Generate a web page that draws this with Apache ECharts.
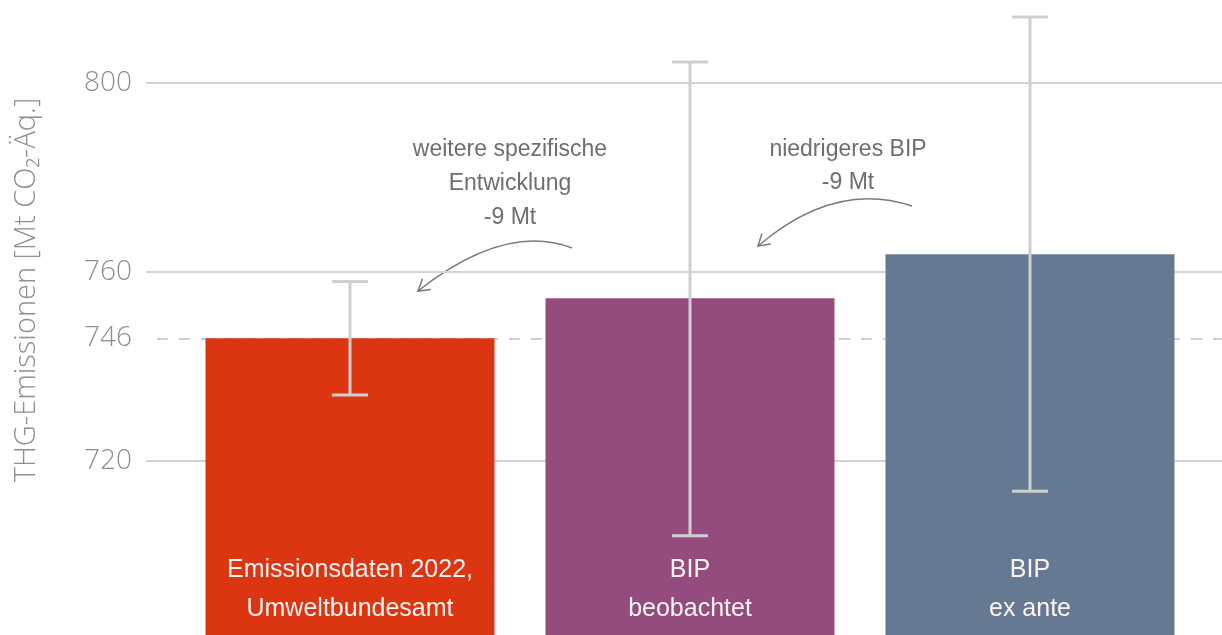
<!DOCTYPE html>
<html><head><meta charset="utf-8">
<script src="https://cdn.jsdelivr.net/npm/echarts@6/dist/echarts.min.js"></script>
<style>html,body{margin:0;padding:0;background:#fff}#c{width:1222px;height:635px}</style>
</head><body><div id="c"></div>
<script>
// ---- data ----
const categories = ['Emissionsdaten 2022,\nUmweltbundesamt', 'BIP\nbeobachtet', 'BIP\nex ante'];
const values = [746, 754.5, 763.8];
const lowerBounds = [734, 704.2, 713.6];
const upperBounds = [758, 804.5, 814];
const barColors = ['#DC3512', '#944C7F', '#667992'];
const yTickLabels = [720, 760, 800];
const referenceValue = 746;
const yAxisTitle = 'THG-Emissionen [Mt CO\u2082-\u00C4q.]';
const annotationTexts = ['weitere spezifische\nEntwicklung\n-9 Mt', 'niedrigeres BIP\n-9 Mt'];

// ---- layout ----
const AX_MIN = 683.2, AX_MAX = 817.6;
const tickFont = {fontFamily: 'Open Sans', fontWeight: 300, fontSize: 28, color: '#8f8f8f'};
const gridColor = '#d4d4d4';

function arrow(p0, c, p2) {
  const dx = p2[0] - c[0], dy = p2[1] - c[1];
  const len = Math.hypot(dx, dy);
  const bx = -dx / len, by = -dy / len;
  const L = 13, a = 32 * Math.PI / 180;
  const w1 = [p2[0] + L * (bx * Math.cos(a) - by * Math.sin(a)), p2[1] + L * (bx * Math.sin(a) + by * Math.cos(a))];
  const w2 = [p2[0] + L * (bx * Math.cos(-a) - by * Math.sin(-a)), p2[1] + L * (bx * Math.sin(-a) + by * Math.cos(-a))];
  const style = {stroke: '#7a7a7a', lineWidth: 1.5, fill: null};
  return [
    {type: 'bezierCurve', shape: {x1: p0[0], y1: p0[1], x2: p2[0], y2: p2[1], cpx1: c[0], cpy1: c[1]}, style: style, silent: true},
    {type: 'polyline', shape: {points: [w1, p2, w2]}, style: style, silent: true}
  ];
}

const gridLines = yTickLabels.map(v => ({
  yAxis: v,
  lineStyle: {type: 'solid', color: gridColor, width: 2},
  label: Object.assign({show: true, position: 'start', distance: 14, formatter: String(v)}, tickFont)
}));
const refLine = {
  yAxis: referenceValue,
  lineStyle: {type: [11, 11], dashOffset: 11, color: '#cfcfcf', width: 2},
  label: Object.assign({show: true, position: 'start', distance: 14, formatter: String(referenceValue)}, tickFont)
};

const chart = echarts.init(document.getElementById('c'), null, {renderer: 'canvas'});
chart.setOption({
  animation: false,
  backgroundColor: '#ffffff',
  grid: [
    {left: 180, right: 22, top: 0, bottom: 0},
    {left: 146, right: 0, top: 0, bottom: 0}
  ],
  xAxis: [
    {type: 'category', gridIndex: 0, data: categories, show: false},
    {type: 'value', gridIndex: 1, min: 0, max: 1, show: false}
  ],
  yAxis: [
    {type: 'value', gridIndex: 0, min: AX_MIN, max: AX_MAX, show: false, splitLine: {show: false}},
    {type: 'value', gridIndex: 1, min: AX_MIN, max: AX_MAX, show: false, splitLine: {show: false}}
  ],
  series: [
    {
      type: 'scatter', xAxisIndex: 1, yAxisIndex: 1, data: [], silent: true, z: 1,
      markLine: {
        silent: true, symbol: 'none', z: 1,
        data: gridLines.concat([refLine])
      }
    },
    {
      type: 'bar', xAxisIndex: 0, yAxisIndex: 0, barWidth: '85%', z: 2,
      data: values.map((v, i) => ({value: v, itemStyle: {color: barColors[i]}})),
      label: {show: true, position: 'insideBottom', distance: 6, formatter: '{b}',
        color: '#fbf3f0', fontFamily: 'Liberation Sans', fontSize: 25, lineHeight: 39, align: 'center'}
    },
    {
      type: 'custom', xAxisIndex: 0, yAxisIndex: 0, z: 5,
      data: categories.map((c, i) => [i, lowerBounds[i], upperBounds[i]]),
      encode: {x: 0, y: [1, 2]},
      renderItem: function (params, api) {
        const i = api.value(0);
        const lo = api.coord([i, api.value(1)]);
        const hi = api.coord([i, api.value(2)]);
        const hw = 18;
        const style = {stroke: '#cfcfcf', lineWidth: 3};
        return {type: 'group', children: [
          {type: 'line', shape: {x1: lo[0], y1: lo[1], x2: hi[0], y2: hi[1]}, style: style},
          {type: 'line', shape: {x1: lo[0] - hw, y1: lo[1], x2: lo[0] + hw, y2: lo[1]}, style: style},
          {type: 'line', shape: {x1: hi[0] - hw, y1: hi[1], x2: hi[0] + hw, y2: hi[1]}, style: style}
        ]};
      }
    }
  ],
  graphic: [
    {type: 'text', x: 27, y: 290, rotation: Math.PI / 2, silent: true,
      style: {text: yAxisTitle, fontFamily: 'Open Sans', fontWeight: 300, fontSize: 29, fill: '#8f8f8f',
        align: 'center', verticalAlign: 'middle'}},
    {type: 'text', x: 510, y: 184, silent: true,
      style: {text: annotationTexts[0], fontFamily: 'Liberation Sans', fontSize: 23, lineHeight: 34, fill: '#6e6e6e',
        align: 'center', verticalAlign: 'middle'}},
    {type: 'text', x: 848, y: 166.5, silent: true,
      style: {text: annotationTexts[1], fontFamily: 'Liberation Sans', fontSize: 23, lineHeight: 33, fill: '#6e6e6e',
        align: 'center', verticalAlign: 'middle'}}
  ].concat(arrow([572, 248], [505, 222.5], [418, 291]))
   .concat(arrow([912, 206], [835, 180], [758, 246]))
});
</script>
</body></html>
